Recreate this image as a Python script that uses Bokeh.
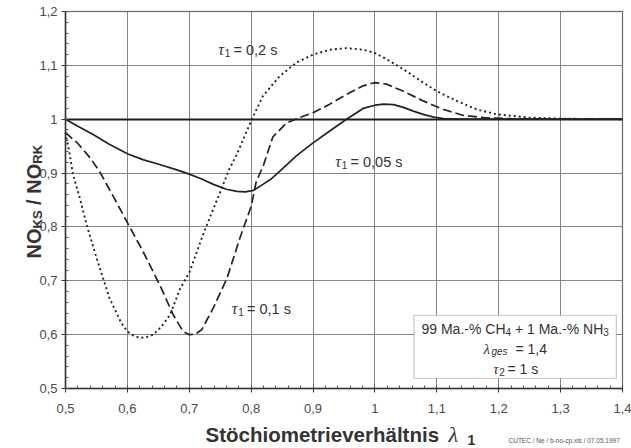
import math
from bokeh.plotting import figure
from bokeh.models import (Range1d, FixedTicker, CustomJSTickFormatter, Label,
                          BoxAnnotation, LinearAxis, Grid)
from bokeh.embed import file_html
from bokeh.resources import INLINE

# ---------------- data ----------------
# tau1 = 0.05 s (solid)
x_tau005 = [0.50, 0.52, 0.544, 0.57, 0.60, 0.625, 0.652, 0.68, 0.70, 0.72,
            0.739, 0.76, 0.777, 0.79, 0.804, 0.819, 0.831, 0.846, 0.873, 0.90,
            0.927, 0.954, 0.981, 1.00, 1.014, 1.03, 1.046, 1.062, 1.078, 1.095,
            1.111, 1.14, 1.18, 1.25, 1.30, 1.40]
y_tau005 = [1.000, 0.987, 0.972, 0.954, 0.936, 0.925, 0.916, 0.906, 0.898, 0.889,
            0.879, 0.870, 0.866, 0.865, 0.868, 0.879, 0.888, 0.903, 0.932, 0.956,
            0.978, 1.000, 1.020, 1.026, 1.028, 1.027, 1.022, 1.015, 1.009, 1.004,
            1.001, 1.000, 1.000, 1.000, 1.000, 1.000]

# tau1 = 0.1 s (dashed)
x_tau01 = [0.50, 0.52, 0.54, 0.555, 0.578, 0.60, 0.625, 0.652, 0.674, 0.69,
           0.70, 0.71, 0.72, 0.739, 0.761, 0.782, 0.80, 0.808, 0.82, 0.835,
           0.857, 0.878, 0.90, 0.927, 0.954, 0.981, 1.00, 1.019, 1.046, 1.078,
           1.111, 1.143, 1.176, 1.22, 1.30, 1.40]
y_tau01 = [0.975, 0.955, 0.928, 0.903, 0.855, 0.808, 0.755, 0.693, 0.637, 0.606,
           0.600, 0.601, 0.609, 0.650, 0.705, 0.780, 0.838, 0.883, 0.915, 0.967,
           0.993, 1.003, 1.012, 1.028, 1.046, 1.062, 1.068, 1.065, 1.052, 1.034,
           1.018, 1.007, 1.003, 1.001, 1.000, 1.000]

# tau1 = 0.2 s (dotted)
x_tau02 = [0.50, 0.506, 0.512, 0.523, 0.534, 0.55, 0.571, 0.59, 0.60, 0.61,
           0.62, 0.63, 0.642, 0.655, 0.669, 0.685, 0.70, 0.723, 0.75, 0.765,
           0.777, 0.80, 0.819, 0.846, 0.873, 0.90, 0.927, 0.954, 0.981, 1.00,
           1.024, 1.051, 1.078, 1.10, 1.132, 1.165, 1.197, 1.25, 1.30, 1.40]
y_tau02 = [0.975, 0.940, 0.898, 0.854, 0.805, 0.743, 0.668, 0.622, 0.606, 0.598,
           0.594, 0.595, 0.600, 0.615, 0.637, 0.685, 0.715, 0.788, 0.865, 0.908,
           0.935, 0.997, 1.043, 1.080, 1.105, 1.120, 1.129, 1.132, 1.129, 1.123,
           1.108, 1.089, 1.068, 1.052, 1.034, 1.018, 1.009, 1.003, 1.001, 1.000]

x_lo, x_hi = 0.5, 1.4
y_lo, y_hi = 0.5, 1.2
x_ticks = [0.5, 0.6, 0.7, 0.8, 0.9, 1.0, 1.1, 1.2, 1.3, 1.4]
y_ticks = [0.5, 0.6, 0.7, 0.8, 0.9, 1.0, 1.1, 1.2]
y_ref = [1.0]
x_minor = [round(0.5 + 0.02 * i, 2) for i in range(46)]
y_minor = [round(0.5 + 0.02 * i, 2) for i in range(36)]

# ---------------- layout (pixels) ----------------
W, H = 631, 448
L, R, T, B = 65, 9, 11, 60          # plot-area margins inside the canvas
fx = (W - L - R) / (x_hi - x_lo)    # px per x unit
fy = (H - T - B) / (y_hi - y_lo)    # px per y unit

p = figure(width=W, height=H, output_backend="svg", toolbar_location=None,
           x_range=Range1d(x_lo - L / fx, x_hi + R / fx),
           y_range=Range1d(y_lo - B / fy, y_hi + T / fy),
           x_axis_location=None, y_axis_location=None,
           min_border=0)
p.background_fill_color = "white"
p.border_fill_color = "white"
p.outline_line_color = None
for g in p.grid:
    g.visible = False

fmt = CustomJSTickFormatter(code="""
    let s = tick.toFixed(1).replace('.', ',');
    if (s.endsWith(',0')) s = s.slice(0, -2);
    return s;
""")

xticker = FixedTicker(ticks=x_ticks, minor_ticks=x_minor)
yticker = FixedTicker(ticks=y_ticks, minor_ticks=y_minor)

# grid lines limited to the plot area
p.add_layout(Grid(dimension=0, ticker=xticker, bounds=(x_lo, x_hi),
                  cross_bounds=(y_lo, y_hi), grid_line_color="#848484",
                  grid_line_width=1))
p.add_layout(Grid(dimension=1, ticker=yticker, bounds=(y_lo, y_hi),
                  cross_bounds=(x_lo, x_hi), grid_line_color="#848484",
                  grid_line_width=1))
p.add_layout(Grid(dimension=1, ticker=FixedTicker(ticks=y_ref),
                  bounds=(y_lo, y_hi), cross_bounds=(x_lo, x_hi),
                  grid_line_color="#1e1e1e", grid_line_width=2))

xaxis = LinearAxis(fixed_location=y_lo, bounds=(x_lo, x_hi), ticker=xticker,
                   formatter=fmt)
yaxis = LinearAxis(fixed_location=x_lo, bounds=(y_lo, y_hi), ticker=yticker,
                   formatter=fmt)
for ax in (xaxis, yaxis):
    ax.axis_line_color = "#333333"
    ax.axis_line_width = 1.5
    ax.major_tick_line_color = "#333333"
    ax.minor_tick_line_color = "#555555"
    ax.major_tick_in = 0
    ax.major_tick_out = 4
    ax.minor_tick_in = 3
    ax.minor_tick_out = 0
    ax.major_label_text_font = "Liberation Sans"
    ax.major_label_text_font_size = "13px"
    ax.major_label_text_color = "#4a4a4a"
xaxis.major_label_standoff = 11
yaxis.major_label_standoff = 4
p.add_layout(xaxis, "below")
p.add_layout(yaxis, "left")

p.line(x_tau005, y_tau005, line_color="#222222", line_width=1.7)
p.line(x_tau01, y_tau01, line_color="#222222", line_width=1.7,
       line_dash="9 4")
p.line(x_tau02, y_tau02, line_color="#222222", line_width=1.9,
       line_dash="2 3")

# plot-area frame
p.add_layout(BoxAnnotation(left=x_lo, right=x_hi, bottom=y_lo, top=y_hi,
                           fill_alpha=0, line_color="#333333",
                           line_width=1.5))
# info box
p.add_layout(BoxAnnotation(left=1.063, right=1.39, bottom=0.519, top=0.636,
                           fill_color="white", fill_alpha=1.0,
                           line_color="#444444", line_width=1.2))

SANS = "Liberation Sans"
SERIF = "Liberation Serif"
TXT = "#333333"


def txt(X, Y, s, size, font=SANS, style="normal", align="left",
        color=TXT, angle=0.0):
    p.add_layout(Label(x=X, y=H - Y, x_units="screen", y_units="screen",
                       text=s, text_font=font, text_font_size=f"{size}px",
                       text_font_style=style, text_align=align,
                       text_baseline="alphabetic", text_color=color,
                       angle=angle))


AR = {' ': 278, 'M': 833, 'a': 556, '.': 278, '-': 333, '%': 889, 'C': 722,
      'H': 722, '+': 584, 'N': 722, '=': 584, ',': 278, 's': 500, 'g': 556,
      'e': 556, '/': 278, 'O': 778, 'K': 722, 'S': 667, 'R': 722}
for d in "0123456789":
    AR[d] = 556


def width(s, size):
    return sum(AR.get(c, 556) for c in s) / 1000.0 * size


# curve labels  tau_1 = ...
def tau_label(xa, Y, sub, rest, xr):
    txt(xa, Y, "τ", 16, font=SERIF, style="italic", align="right")
    txt(xa + 0.8, Y + 3, sub, 10)
    txt(xr, Y, rest, 14.5)


tau_label(223.5, 49, "1", "= 0,2 s", 233)
tau_label(340.5, 161, "1", "= 0,05 s", 350)
tau_label(237.0, 308, "1", "= 0,1 s", 246.5)

# info box text
x0 = 421.0
runs = [("99 Ma.-% CH", 14, 0), ("4", 10, 3), ("+ 1 Ma.-% NH", 14, 0),
        ("3", 10, 3)]
gap_before = [0, 0, width(" ", 14), 0]
X = x0
for (s, sz, dy), gb in zip(runs, gap_before):
    X += gb
    txt(X, 328 + dy, s, sz)
    X += width(s, sz)

txt(489.5, 348, "λ", 15, font=SERIF, style="italic", align="right")
txt(491, 351, "ges", 10, style="italic")
txt(515, 348, "= 1,4", 14)
txt(498, 368, "τ", 15, font=SERIF, style="italic", align="right")
txt(498.8, 371, "2", 10)
txt(507, 368, "= 1 s", 14)

# y axis title (rotated) NO_KS / NO_RK
ang = math.pi / 2
Yc = 258.0
bx = 33.0
txt(bx, Yc, "NO", 20, style="bold", angle=ang)
Yc -= width("NO", 20)
txt(bx + 4, Yc, "KS", 13, style="bold", angle=ang)
Yc -= width("KS", 13) + width(" ", 20)
txt(bx, Yc, "/", 20, style="bold", angle=ang)
Yc -= width("/ ", 20)
txt(bx, Yc, "NO", 20, style="bold", angle=ang)
Yc -= width("NO", 20)
txt(bx + 4, Yc, "RK", 13, style="bold", angle=ang)

# x axis title
txt(205, 434, "Stöchiometrieverhältnis", 20.5, style="bold")
txt(448, 434, "λ", 22, font=SERIF, style="italic")
txt(467, 439, "1", 14, style="bold")

# footer
txt(508, 440, "CUTEC / Ne / b-no-cp.xls / 07.05.1997", 6.5, color="#555555")

open("out.html", "w").write(file_html(p, INLINE))
